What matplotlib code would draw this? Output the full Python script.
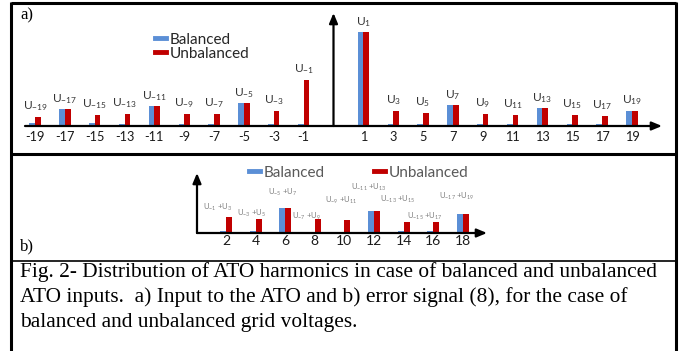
import matplotlib
matplotlib.use("Agg")
import matplotlib.pyplot as plt
from matplotlib.lines import Line2D
import numpy as np

# ---------------- data ----------------
# panel a) harmonic order and amplitude (% of fundamental)
orders_a = [-19, -17, -15, -13, -11, -9, -7, -5, -3, -1, 1, 3, 5, 7, 9, 11, 13, 15, 17, 19]
balanced_a = [3, 18, 3, 2, 21, 2, 2, 24, 2, 2, 100, 2, 2, 22, 2, 2, 19, 2, 2, 16]
unbalanced_a = [10, 18, 12, 13, 21, 13, 13, 24, 16, 49, 100, 16, 14, 22, 13, 12, 19, 12, 11, 16]

# panel b) error-signal harmonics
orders_b = [2, 4, 6, 8, 10, 12, 14, 16, 18]
balanced_b = [2, 2, 27, 1, 1, 23, 2, 2, 20]
unbalanced_b = [17, 15, 27, 15, 14, 23, 12, 12, 20]
labels_b = [("-1", "3"), ("-3", "5"), ("-5", "7"), ("-7", "9"), ("-9", "11"),
            ("-11", "13"), ("-13", "15"), ("-15", "17"), ("-17", "19")]

caption = ["Fig. 2- Distribution of ATO harmonics in case of balanced and unbalanced",
           "ATO inputs.  a) Input to the ATO and b) error signal (8), for the case of",
           "balanced and unbalanced grid voltages."]

# ---------------- style ----------------
BLUE = "#5B8FD6"
RED = "#C00000"
plt.rcParams["font.family"] = ["Lato", "DejaVu Sans"]
plt.rcParams["mathtext.default"] = "regular"

W, H = 697, 351
fig = plt.figure(figsize=(W / 100, H / 100), dpi=100)


def px_axes(x0, y0, x1, y1):
    return fig.add_axes([x0 / W, 1 - y1 / H, (x1 - x0) / W, (y1 - y0) / H])


def fline(xs, ys, lw):
    fig.add_artist(Line2D([x / W for x in xs], [1 - y / H for y in ys],
                          transform=fig.transFigure, color="black", lw=lw,
                          solid_capstyle="butt"))


# ---------------- panel a ----------------
PXA0, DXA = 35.0, 29.85        # pixel of first category, pixel step
BASE_A, SCALE_A = 126.0, 0.94  # baseline pixel, pixels per unit
axL, axR, axT = 20, 665, 10
ax = px_axes(axL, axT, axR, BASE_A)
ax.set_xlim((axL - PXA0) / DXA, (axR - PXA0) / DXA)
ax.set_ylim(0, (BASE_A - axT) / SCALE_A)
for s in ax.spines.values():
    s.set_visible(False)

pos_a = np.array([i if o < 0 else i + 1 for i, o in enumerate(orders_a)], dtype=float)
w = 0.19
ax.bar(pos_a - w / 2, balanced_a, w, color=BLUE, label="Balanced")
ax.bar(pos_a + w / 2, unbalanced_a, w, color=RED, label="Unbalanced")
ax.set_xticks(pos_a)
ax.set_xticklabels([str(o) for o in orders_a], fontsize=9.2, color="#1a1a1a")
ax.tick_params(axis="x", length=0, pad=3.5)
ax.set_yticks([])

for p, o, b, r in zip(pos_a, orders_a, balanced_a, unbalanced_a):
    ax.annotate("U$_{%d}$" % o, (p, max(b, r)), xytext=(0, 2.5),
                textcoords="offset points", ha="center", va="bottom",
                fontsize=8.6, color="#333333")

# axes arrows
ax.annotate("", xy=((662 - PXA0) / DXA, 0), xytext=((25 - PXA0) / DXA, 0),
            arrowprops=dict(arrowstyle="-|>,head_length=0.6,head_width=0.25",
                            color="black", lw=1.6, shrinkA=0, shrinkB=0),
            annotation_clip=False)
ax.annotate("", xy=(10, (BASE_A - 13) / SCALE_A), xytext=(10, 0),
            arrowprops=dict(arrowstyle="-|>,head_length=0.6,head_width=0.25",
                            color="black", lw=1.6, shrinkA=0, shrinkB=0),
            annotation_clip=False)

h1 = [Line2D([], [], color=BLUE, lw=3.5), Line2D([], [], color=RED, lw=3.5)]
fig.legend(h1, ["Balanced", "Unbalanced"], loc="upper left",
           bbox_to_anchor=(147 / W, 1 - 25 / H), frameon=False, fontsize=11,
           handlelength=0.75, handletextpad=0.25, labelspacing=0.0,
           borderpad=0, labelcolor="#262626")

# ---------------- panel b ----------------
PXB0, DXB = 226.0, 29.6
BASE_B = 233.0
bL, bR, bT = 190, 495, 170
bx = px_axes(bL, bT, bR, BASE_B)
bx.set_xlim((bL - PXB0) / DXB, (bR - PXB0) / DXB)
bx.set_ylim(0, (BASE_B - bT) / SCALE_A)
for s in bx.spines.values():
    s.set_visible(False)
pos_b = np.arange(len(orders_b), dtype=float)
wb = 0.2
bx.bar(pos_b - wb / 2, balanced_b, wb, color=BLUE)
bx.bar(pos_b + wb / 2, unbalanced_b, wb, color=RED)
bx.set_xticks(pos_b)
bx.set_xticklabels([str(o) for o in orders_b], fontsize=10, color="#1a1a1a")
bx.tick_params(axis="x", length=0, pad=1.5)
bx.set_yticks([])

lab_off = [(-6, 3), (-3, 0), (-2, 7), (-6, -2), (-2, 10), (-4, 13), (-4, 12), (-6, 0), (-4, 9)]
for p, (a, c), b, r, (dx, dy) in zip(pos_b, labels_b, balanced_b, unbalanced_b, lab_off):
    bx.annotate("U$_{%s}$ +U$_{%s}$" % (a, c), (p, max(b, r)), xytext=(dx, dy),
                textcoords="offset points", ha="center", va="bottom",
                fontsize=5.6, color="#808080")

bx.annotate("", xy=((487 - PXB0) / DXB, 0), xytext=((197 - PXB0) / DXB, 0),
            arrowprops=dict(arrowstyle="-|>,head_length=0.6,head_width=0.25",
                            color="black", lw=1.6, shrinkA=0, shrinkB=0),
            annotation_clip=False)
bx.annotate("", xy=((197 - PXB0) / DXB, (BASE_B - 173) / SCALE_A),
            xytext=((197 - PXB0) / DXB, 0),
            arrowprops=dict(arrowstyle="-|>,head_length=0.6,head_width=0.25",
                            color="black", lw=1.6, shrinkA=0, shrinkB=0),
            annotation_clip=False)

fig.legend(h1, ["Balanced", "Unbalanced"], loc="upper left", ncol=2,
           bbox_to_anchor=(241 / W, 1 - 158 / H), frameon=False, fontsize=11,
           handlelength=0.75, handletextpad=0.25, columnspacing=3.2,
           borderpad=0, labelcolor="#595959")

# ---------------- frame, panel letters, caption ----------------
fline([11, 676], [3, 3], 2.2)
fline([11, 11], [2, 351], 2.2)
fline([676, 676], [2, 351], 2.2)
fline([11, 676], [154, 154], 2.2)
fline([11, 676], [261, 261], 1.2)

fig.text(20 / W, 1 - 15 / H, "a)", family="Liberation Serif", fontsize=12,
         va="center", ha="left")
fig.text(20 / W, 1 - 246 / H, "b)", family="Liberation Serif", fontsize=12,
         va="center", ha="left")
for k, line in enumerate(caption):
    fig.text(20 / W, 1 - (272 + 25 * k) / H, line, family="Liberation Serif",
             fontsize=15.4, va="center", ha="left")

fig.savefig("out.png", dpi=100)
